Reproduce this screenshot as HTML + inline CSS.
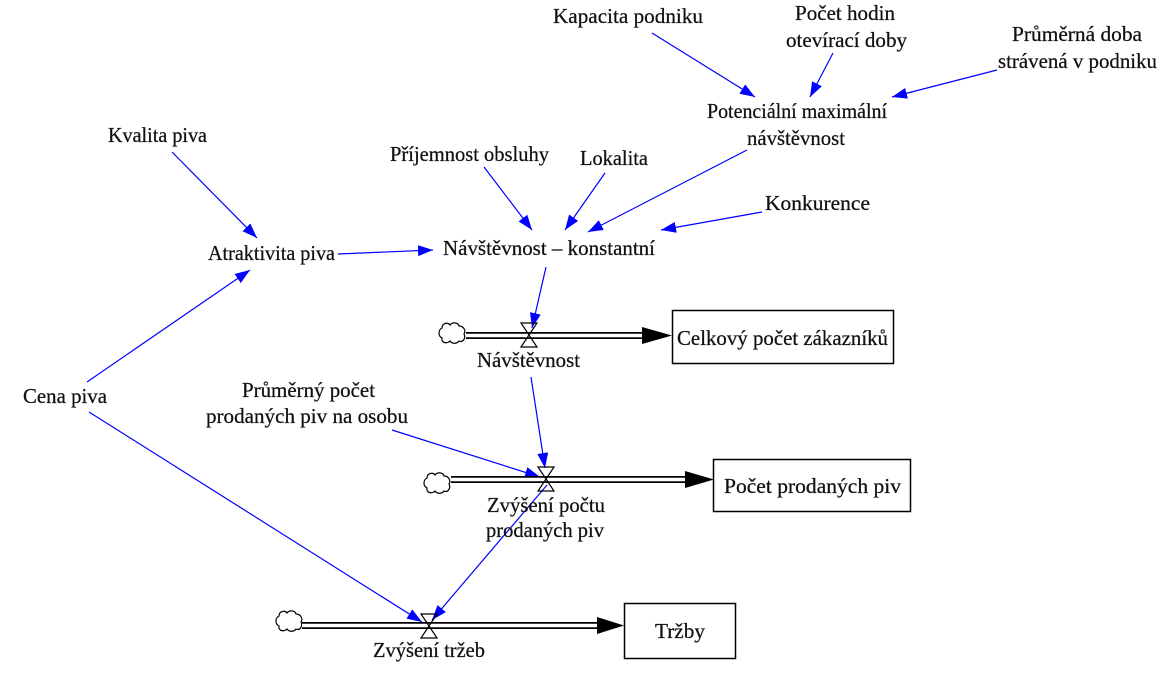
<!DOCTYPE html>
<html><head><meta charset="utf-8">
<style>
html,body{margin:0;padding:0;background:#fff;}
svg{display:block;}
text{font-family:"Liberation Serif","Times New Roman",serif;font-size:21px;fill:#111;stroke:#111;stroke-width:0.25;}
</style></head>
<body>
<svg width="1172" height="674" viewBox="0 0 1172 674" xmlns="http://www.w3.org/2000/svg">
<defs>
<marker id="ah" markerUnits="userSpaceOnUse" markerWidth="15" markerHeight="11" refX="15" refY="5.5" orient="auto">
<path d="M0,0 L15,5.5 L0,11 Z" fill="#0000ff"/>
</marker>
<path id="cloud" d="M4,6 C4,1 10,0 12,3 C14,0 20,0 21,4 C26,4 28,9 26,12 C28,16 25,21 21,19 C19,22 14,22 12,19 C9,22 3,21 4,16 C0,14 0,8 4,6 Z" fill="#fff" stroke="#000" stroke-width="1.2"/>
</defs>

<!-- connectors -->
<g stroke="#0000ff" stroke-width="1.2" fill="none" marker-end="url(#ah)">
<line x1="652" y1="33" x2="755" y2="97"/>
<line x1="833" y1="53" x2="810" y2="97"/>
<line x1="997" y1="70" x2="892" y2="97"/>
<line x1="172" y1="152" x2="257" y2="238"/>
<line x1="484" y1="167" x2="532" y2="230"/>
<line x1="605" y1="173" x2="565" y2="230"/>
<line x1="747" y1="150" x2="588" y2="232"/>
<line x1="762" y1="212" x2="661" y2="230"/>
<line x1="338" y1="254" x2="433" y2="250"/>
<line x1="87" y1="382" x2="250" y2="270"/>
<line x1="546" y1="267" x2="532" y2="328"/>
<line x1="531" y1="377" x2="545" y2="468"/>
<line x1="392" y1="430" x2="540" y2="477"/>
<line x1="89" y1="412" x2="422" y2="622"/>
<line x1="547" y1="485" x2="432" y2="620"/>
</g>

<!-- flow 1 -->
<use href="#cloud" x="438" y="322"/>
<line x1="466" y1="335.5" x2="645" y2="335.5" stroke="#000" stroke-width="7"/>
<line x1="466" y1="335.5" x2="645" y2="335.5" stroke="#fff" stroke-width="3.4"/>
<polygon points="642,327 672,335.5 642,344" fill="#000"/>
<path d="M521,323 L537,323 L529,335 Z M529,335 L521,347 L537,347 Z" fill="none" stroke="#000" stroke-width="1.2"/>
<rect x="672.5" y="310.5" width="221" height="53" fill="#fff" stroke="#000" stroke-width="1.5"/>

<!-- flow 2 -->
<use href="#cloud" x="423" y="472"/>
<line x1="451" y1="479.5" x2="688" y2="479.5" stroke="#000" stroke-width="7"/>
<line x1="451" y1="479.5" x2="688" y2="479.5" stroke="#fff" stroke-width="3.4"/>
<polygon points="685,471 714,479.5 685,488" fill="#000"/>
<path d="M538,467 L554,467 L546,479 Z M546,479 L538,491 L554,491 Z" fill="none" stroke="#000" stroke-width="1.2"/>
<rect x="713.5" y="459.5" width="197" height="52" fill="#fff" stroke="#000" stroke-width="1.5"/>

<!-- flow 3 -->
<use href="#cloud" x="275" y="610"/>
<line x1="302" y1="625.5" x2="600" y2="625.5" stroke="#000" stroke-width="7"/>
<line x1="302" y1="625.5" x2="600" y2="625.5" stroke="#fff" stroke-width="3.4"/>
<polygon points="597,617 624,625.5 597,634" fill="#000"/>
<path d="M421,614 L437,614 L429,626 Z M429,626 L421,638 L437,638 Z" fill="none" stroke="#000" stroke-width="1.2"/>
<rect x="624.5" y="603.5" width="111" height="55" fill="#fff" stroke="#000" stroke-width="1.5"/>

<!-- labels -->
<g>
<text x="553" y="23" textLength="150" lengthAdjust="spacingAndGlyphs">Kapacita podniku</text>
<text x="795" y="20" textLength="100" lengthAdjust="spacingAndGlyphs">Počet hodin</text>
<text x="786" y="47" textLength="121" lengthAdjust="spacingAndGlyphs">otevírací doby</text>
<text x="1012" y="41" textLength="130" lengthAdjust="spacingAndGlyphs">Průměrná doba</text>
<text x="998" y="68" textLength="159" lengthAdjust="spacingAndGlyphs">strávená v podniku</text>
<text x="707" y="118" textLength="180" lengthAdjust="spacingAndGlyphs">Potenciální maximální</text>
<text x="747" y="145" textLength="98" lengthAdjust="spacingAndGlyphs">návštěvnost</text>
<text x="108" y="142" textLength="99" lengthAdjust="spacingAndGlyphs">Kvalita piva</text>
<text x="390" y="161" textLength="159" lengthAdjust="spacingAndGlyphs">Příjemnost obsluhy</text>
<text x="580" y="165" textLength="68" lengthAdjust="spacingAndGlyphs">Lokalita</text>
<text x="765" y="210" textLength="105" lengthAdjust="spacingAndGlyphs">Konkurence</text>
<text x="208" y="260" textLength="127" lengthAdjust="spacingAndGlyphs">Atraktivita piva</text>
<text x="443" y="255" textLength="212" lengthAdjust="spacingAndGlyphs">Návštěvnost – konstantní</text>
<text x="677" y="345" textLength="211" lengthAdjust="spacingAndGlyphs">Celkový počet zákazníků</text>
<text x="477" y="367" textLength="103" lengthAdjust="spacingAndGlyphs">Návštěvnost</text>
<text x="23" y="403" textLength="84" lengthAdjust="spacingAndGlyphs">Cena piva</text>
<text x="242" y="397" textLength="133" lengthAdjust="spacingAndGlyphs">Průměrný počet</text>
<text x="206" y="423" textLength="202" lengthAdjust="spacingAndGlyphs">prodaných piv na osobu</text>
<text x="724" y="493" textLength="177" lengthAdjust="spacingAndGlyphs">Počet prodaných piv</text>
<text x="487" y="512" textLength="118" lengthAdjust="spacingAndGlyphs">Zvýšení počtu</text>
<text x="486" y="537" textLength="118" lengthAdjust="spacingAndGlyphs">prodaných piv</text>
<text x="655" y="638" textLength="50" lengthAdjust="spacingAndGlyphs">Tržby</text>
<text x="373" y="657" textLength="112" lengthAdjust="spacingAndGlyphs">Zvýšení tržeb</text>
</g>
</svg>
</body></html>
